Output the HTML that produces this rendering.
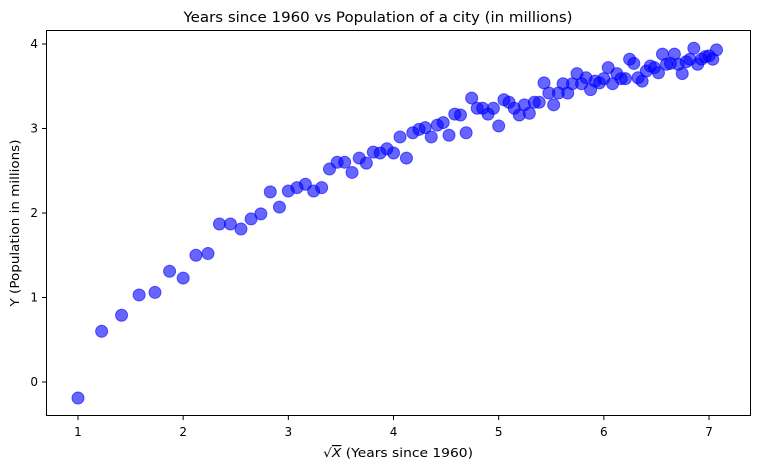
<!DOCTYPE html>
<html><head><meta charset="utf-8"><style>
body{margin:0;background:#fff;font-family:"Liberation Sans","DejaVu Sans",sans-serif;}
svg text{font-family:"DejaVu Sans","Liberation Sans",sans-serif;}
</style></head><body>
<svg id="chart" width="758" height="470" xmlns="http://www.w3.org/2000/svg">
<rect width="758" height="470" fill="#fff"/>
<text x="378" y="22" font-size="14" text-anchor="middle" textLength="389" lengthAdjust="spacingAndGlyphs">Years since 1960 vs Population of a city (in millions)</text>
<g id="marks"></g>
<rect x="46.5" y="30.5" width="704" height="385" fill="none" stroke="#000" stroke-width="1"/>
<g id="xt"></g>
<g id="yt"></g>
<text x="398" y="457" font-size="12" text-anchor="middle" textLength="150" lengthAdjust="spacingAndGlyphs">√<tspan font-style="italic" text-decoration="overline">X</tspan> (Years since 1960)</text>
<text transform="translate(19,223) rotate(-90)" font-size="12" text-anchor="middle" textLength="167" lengthAdjust="spacingAndGlyphs">Y (Population in millions)</text>
</svg>
<script>
const yValues=[-0.19,0.60,0.79,1.03,1.06,1.31,1.23,1.50,1.52,1.87,1.87,1.81,1.93,1.99,2.25,2.07,2.26,2.30,2.34,2.26,2.30,2.52,2.60,2.60,2.48,2.65,2.59,2.72,2.71,2.76,2.71,2.90,2.65,2.95,2.99,3.01,2.90,3.04,3.07,2.92,3.17,3.16,2.95,3.36,3.24,3.24,3.17,3.24,3.03,3.34,3.31,3.24,3.16,3.28,3.18,3.31,3.31,3.54,3.42,3.28,3.42,3.53,3.42,3.53,3.65,3.53,3.60,3.46,3.56,3.54,3.59,3.72,3.53,3.65,3.59,3.59,3.82,3.77,3.60,3.56,3.68,3.74,3.72,3.66,3.88,3.76,3.77,3.88,3.76,3.65,3.79,3.82,3.95,3.76,3.82,3.85,3.86,3.82,3.93];
const xValues=yValues.map((_,i)=>Math.sqrt(1+0.5*i));
const xTicks=[1,2,3,4,5,6,7];
const yTicks=[0,1,2,3,4];
const NS="http://www.w3.org/2000/svg";
const sx=v=>78+(v-1)*105.17;
const sy=v=>382-v*84.5;
const marks=document.getElementById('marks');
xValues.forEach((x,i)=>{
 const c=document.createElementNS(NS,'circle');
 c.setAttribute('cx',sx(x));c.setAttribute('cy',sy(yValues[i]));c.setAttribute('r',6);
 c.setAttribute('fill','rgba(0,0,255,0.6)');c.setAttribute('stroke','rgba(0,0,255,0.6)');c.setAttribute('stroke-width','1');
 
 
 marks.appendChild(c);
});
const xt=document.getElementById('xt');
xTicks.forEach(t=>{
 const l=document.createElementNS(NS,'line');
 l.setAttribute('x1',sx(t));l.setAttribute('x2',sx(t));l.setAttribute('y1',416);l.setAttribute('y2',420);l.setAttribute('stroke','#000');
 
 
 xt.appendChild(l);
 const tx=document.createElementNS(NS,'text');
 tx.setAttribute('x',sx(t));tx.setAttribute('y',436);tx.setAttribute('font-size','12');tx.setAttribute('text-anchor','middle');tx.textContent=t;
 
 
 xt.appendChild(tx);
});
const yt=document.getElementById('yt');
yTicks.forEach(t=>{
 const l=document.createElementNS(NS,'line');
 l.setAttribute('x1',42);l.setAttribute('x2',46);l.setAttribute('y1',sy(t));l.setAttribute('y2',sy(t));l.setAttribute('stroke','#000');
 
 
 yt.appendChild(l);
 const tx=document.createElementNS(NS,'text');
 tx.setAttribute('x',38);tx.setAttribute('y',sy(t)+4);tx.setAttribute('font-size','12');tx.setAttribute('text-anchor','end');tx.textContent=t;
 
 
 yt.appendChild(tx);
});
</script>
</body></html>
